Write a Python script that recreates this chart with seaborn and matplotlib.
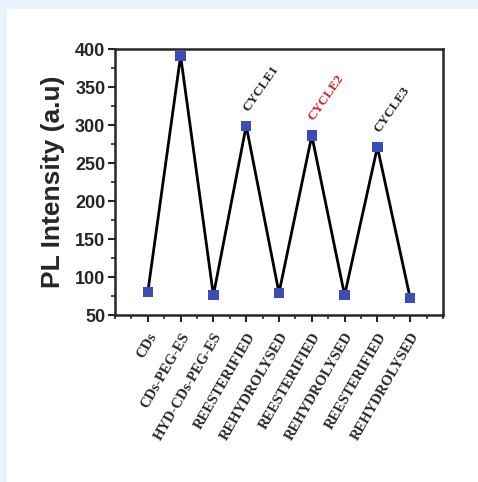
import matplotlib
matplotlib.use("Agg")
import matplotlib.pyplot as plt
from matplotlib.patches import Rectangle
from matplotlib.ticker import MultipleLocator
import seaborn as sns
import pandas as pd

# data
categories = ["CDs", "CDs-PEG-ES", "HYD-CDs-PEG-ES", "REESTERIFIED", "REHYDROLYSED",
              "REESTERIFIED", "REHYDROLYSED", "REESTERIFIED", "REHYDROLYSED"]
intensity = [80, 391, 76, 299, 79, 286, 76, 271, 72]
cycle_labels = ["CYCLE1", "CYCLE2", "CYCLE3"]
cycle_points = [3, 5, 7]
cycle_colors = ["#222222", "#d42020", "#222222"]

df = pd.DataFrame({"pos": range(len(categories)), "value": intensity})

sns.set_style("ticks")
fig = plt.figure(figsize=(4.78, 4.82), dpi=100)
fig.patch.set_facecolor("#e8f2fa")
fig.patches.append(Rectangle((7 / 478, 0), 1, 1 - 9 / 482, transform=fig.transFigure,
                             facecolor="white", edgecolor="none", zorder=-10))

ax = fig.add_axes([115 / 478, 1 - 315 / 482, (443 - 115) / 478, (315 - 49) / 482])
ax.set_zorder(1)
sns.lineplot(data=df, x="pos", y="value", color="black", linewidth=2, ax=ax, zorder=2)
sns.scatterplot(data=df, x="pos", y="value", marker="s", s=55, color="#3b4db8",
                edgecolor="none", ax=ax, zorder=3)

ax.set_xlim(-1, 9)
ax.set_ylim(50, 400)
ax.set_xticks(range(len(categories)))
ax.set_xticklabels(categories, rotation=60, ha="right", rotation_mode="anchor",
                   family="Liberation Serif", fontweight="bold", fontsize=10.5)
ax.xaxis.set_minor_locator(MultipleLocator(0.5))
ax.yaxis.set_major_locator(MultipleLocator(50))
ax.yaxis.set_minor_locator(MultipleLocator(25))
ax.tick_params(axis="both", which="major", length=5, width=1.5, direction="out")
ax.tick_params(axis="both", which="minor", length=3, width=1.2, direction="out")
ax.tick_params(axis="y", labelsize=13, pad=2)
ax.tick_params(axis="x", pad=6)
for lab in ax.get_yticklabels():
    lab.set_fontweight("bold")
    lab.set_family("Liberation Sans")
ax.set_xlabel("")
ax.set_ylabel("PL Intensity (a.u)", family="Liberation Sans", fontweight="bold",
              fontsize=19, labelpad=7)
for sp in ax.spines.values():
    sp.set_linewidth(1.8)
    sp.set_visible(True)

for lab, p, c in zip(cycle_labels, cycle_points, cycle_colors):
    ax.annotate(lab, (p, intensity[p]), xytext=(3, 9), textcoords="offset points",
                rotation=55, rotation_mode="anchor", ha="left", va="bottom",
                family="Liberation Serif", fontweight="bold", fontsize=9.5, color=c)

fig.savefig("out.png", dpi=100)
